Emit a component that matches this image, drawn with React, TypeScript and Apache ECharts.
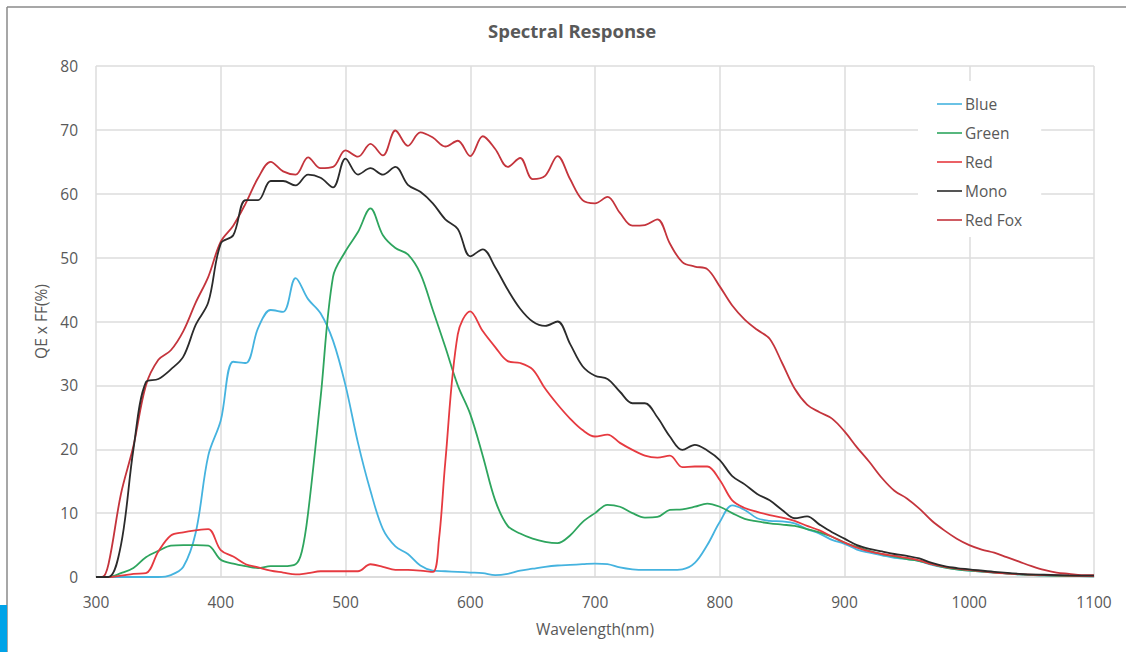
import React, { useEffect, useRef } from "react";
import * as echarts from "echarts";

const seriesNames = ["Blue", "Green", "Red", "Mono", "Red Fox"];
const seriesColors = ["#45b3df", "#2ea55e", "#e63a40", "#2b2b2b", "#c4343c"];
const xTicks = [300, 400, 500, 600, 700, 800, 900, 1000, 1100];
const yTicks = [0, 10, 20, 30, 40, 50, 60, 70, 80];

const blue: [number, number][] = [
  [300, 0], [350, 0], [360, 0.3], [370, 1.6], [380, 7], [390, 19], [400, 24.5], [410, 33.7], [420, 33.5],
  [430, 39], [440, 41.8], [450, 41.5], [460, 46.8], [470, 43.5], [480, 41.3], [490, 37], [500, 30], [510, 21],
  [520, 13.5], [530, 7.5], [540, 4.8], [550, 3.6], [560, 1.8], [570, 1], [580, 0.9], [590, 0.8], [600, 0.7],
  [610, 0.6], [620, 0.3], [630, 0.5], [640, 1], [650, 1.3], [660, 1.6], [670, 1.8], [680, 1.9], [690, 2],
  [700, 2.1], [710, 2], [720, 1.5], [730, 1.2], [740, 1.1], [750, 1.1], [760, 1.1], [770, 1.2], [780, 2.2],
  [790, 5], [800, 8.6], [810, 11.2], [820, 10.5], [830, 9.2], [840, 8.8], [850, 8.7], [860, 8.4], [870, 7.5],
  [880, 6.8], [890, 5.8], [900, 5.2], [910, 4.3], [920, 3.8], [930, 3.4], [940, 3], [950, 2.8], [960, 2.5],
  [970, 1.9], [980, 1.5], [990, 1.2], [1000, 1], [1020, 0.7], [1040, 0.4], [1060, 0.25], [1080, 0.15], [1100, 0.1],
];

const green: [number, number][] = [
  [300, 0], [310, 0], [320, 0.6], [330, 1.4], [340, 3.1], [350, 4.1], [360, 4.9], [370, 5], [380, 5], [390, 4.9],
  [400, 2.7], [410, 2.1], [420, 1.7], [430, 1.4], [440, 1.7], [450, 1.7], [460, 2], [465, 4], [470, 10],
  [480, 28], [490, 47], [500, 51], [510, 54], [520, 57.7], [530, 53.5], [540, 51.5], [550, 50.5], [560, 47.5],
  [570, 41.8], [580, 36], [590, 30], [600, 25.5], [610, 19], [620, 12], [630, 8], [640, 6.8], [650, 6],
  [660, 5.5], [670, 5.3], [680, 6.5], [690, 8.6], [700, 10], [710, 11.3], [720, 11], [730, 10], [740, 9.3],
  [750, 9.4], [760, 10.5], [770, 10.6], [780, 11], [790, 11.5], [800, 11], [810, 10], [820, 9.1], [830, 8.7],
  [840, 8.4], [850, 8.2], [860, 8], [870, 7.5], [880, 7], [890, 6.3], [900, 5.4], [910, 4.7], [920, 4.1],
  [930, 3.6], [940, 3.2], [950, 2.8], [960, 2.5], [970, 2], [980, 1.5], [990, 1.2], [1000, 1], [1020, 0.7],
  [1040, 0.4], [1060, 0.25], [1080, 0.15], [1100, 0.1],
];

const red: [number, number][] = [
  [300, 0], [310, 0], [320, 0.2], [330, 0.5], [340, 0.6], [350, 4], [360, 6.5], [370, 7], [380, 7.3],
  [390, 7.5], [400, 4.2], [410, 3.2], [420, 2], [430, 1.5], [440, 1], [450, 0.7], [460, 0.4], [470, 0.6],
  [480, 0.9], [490, 0.9], [500, 0.9], [510, 0.9], [520, 2], [530, 1.6], [540, 1.1], [550, 1.1], [560, 1],
  [570, 0.8], [575, 6], [580, 18], [590, 38], [600, 41.6], [610, 38.5], [620, 36], [630, 33.8], [640, 33.5],
  [650, 32.5], [660, 29.5], [670, 27], [680, 24.8], [690, 23], [700, 22], [710, 22.3], [720, 21], [730, 19.9],
  [740, 19], [750, 18.7], [760, 19], [770, 17.2], [780, 17.3], [790, 17.3], [800, 15.2], [810, 12], [820, 10.8],
  [830, 10.2], [840, 9.7], [850, 9.3], [860, 8.8], [870, 8], [880, 7.3], [890, 6.3], [900, 5.4], [910, 4.6],
  [920, 4], [930, 3.6], [940, 3.3], [950, 3], [960, 2.6], [970, 2], [980, 1.6], [990, 1.3], [1000, 1.1],
  [1020, 0.7], [1040, 0.45], [1060, 0.3], [1080, 0.2], [1100, 0.15],
];

const mono: [number, number][] = [
  [300, 0], [310, 0], [320, 5], [330, 20], [340, 30.5], [350, 31], [360, 32.5], [370, 34.5], [380, 39.5],
  [390, 43], [400, 52.2], [410, 53.5], [420, 59], [430, 59], [440, 62], [450, 62], [460, 61.3], [470, 63],
  [480, 62.5], [490, 61], [500, 65.5], [510, 63], [520, 64], [530, 63], [540, 64.2], [550, 61.4], [560, 60.3],
  [570, 58.5], [580, 56], [590, 54.5], [600, 50.2], [610, 51.3], [620, 48.5], [630, 45], [640, 42], [650, 40],
  [660, 39.3], [670, 40], [680, 36.5], [690, 33], [700, 31.5], [710, 31], [720, 29], [730, 27.2], [740, 27.2],
  [750, 25], [760, 22], [770, 19.9], [780, 20.7], [790, 19.8], [800, 18.3], [810, 15.8], [820, 14.5], [830, 13],
  [840, 12], [850, 10.5], [860, 9.2], [870, 9.5], [880, 8.2], [890, 7], [900, 6], [910, 5], [920, 4.4],
  [930, 4], [940, 3.6], [950, 3.3], [960, 2.9], [970, 2.2], [980, 1.7], [990, 1.4], [1000, 1.2], [1020, 0.8],
  [1040, 0.5], [1060, 0.35], [1080, 0.25], [1100, 0.2],
];

const redFox: [number, number][] = [
  [300, 0], [305, 0], [310, 2], [320, 13], [330, 20.5], [340, 30], [350, 34], [360, 35.5], [370, 38.5],
  [380, 43], [390, 47], [400, 52.5], [410, 55], [420, 58.5], [430, 62.5], [440, 65], [450, 63.5], [460, 63],
  [470, 65.7], [480, 64], [490, 64.2], [500, 66.8], [510, 65.8], [520, 67.8], [530, 66], [540, 69.9], [550, 67.5],
  [560, 69.6], [570, 68.8], [580, 67.4], [590, 68.3], [600, 65.9], [610, 69], [620, 67], [630, 64.2], [640, 65.6],
  [650, 62.3], [660, 62.8], [670, 65.9], [680, 62.3], [690, 59], [700, 58.5], [710, 59.5], [720, 57], [730, 55],
  [740, 55.1], [750, 56], [760, 52.2], [770, 49.3], [780, 48.6], [790, 48.2], [800, 45.5], [810, 42.5],
  [820, 40.3], [830, 38.7], [840, 37.3], [850, 33.5], [860, 29.5], [870, 27], [880, 25.8], [890, 24.8],
  [900, 22.8], [910, 20.3], [920, 18], [930, 15.5], [940, 13.5], [950, 12.3], [960, 10.7], [970, 8.8],
  [980, 7.3], [990, 6], [1000, 5], [1010, 4.3], [1020, 3.8], [1030, 3.1], [1040, 2.4], [1050, 1.7], [1060, 1.1],
  [1070, 0.7], [1080, 0.5], [1090, 0.3], [1100, 0.3],
];

const allData = [blue, green, red, mono, redFox];

const FONT = "'Open Sans', sans-serif";
const TEXT = "#595959";

export default function App() {
  const ref = useRef<HTMLDivElement>(null);
  useEffect(() => {
    if (!ref.current) return;
    const chart = echarts.init(ref.current, undefined, { renderer: "svg" });
    chart.setOption({
      animation: false,
      backgroundColor: "#ffffff",
      title: {
        text: "Spectral Response",
        left: 488,
        top: 21,
        padding: 0,
        textStyle: { fontFamily: FONT, fontSize: 18.5, fontWeight: "bold", color: TEXT },
      },
      legend: {
        orient: "vertical",
        left: 918,
        top: 81,
        padding: [15, 19, 9, 19],
        backgroundColor: "#ffffff",
        icon: "rect",
        itemWidth: 25,
        itemHeight: 1.6,
        itemGap: 13,
        data: seriesNames,
        textStyle: { fontFamily: FONT, fontSize: 15.5, color: TEXT, padding: [0, 0, 0, -2], lineHeight: 16 },
      },
      grid: { left: 96, right: 32, top: 66, bottom: 75, containLabel: false },
      xAxis: {
        type: "value",
        min: xTicks[0],
        max: xTicks[xTicks.length - 1],
        interval: 100,
        name: "Wavelength(nm)",
        nameLocation: "middle",
        nameGap: 44,
        nameTextStyle: { fontFamily: FONT, fontSize: 15.5, color: TEXT },
        axisLine: { show: true, lineStyle: { color: "#d9d9d9", width: 1.5 } },
        axisTick: { show: false },
        axisLabel: { margin: 17, fontFamily: FONT, fontSize: 15.5, color: TEXT, formatter: (v: number) => String(v) },
        splitLine: { show: true, lineStyle: { color: "#dcdcdc", width: 1.5 } },
      },
      yAxis: {
        type: "value",
        min: yTicks[0],
        max: yTicks[yTicks.length - 1],
        interval: 10,
        name: "QE x FF(%)",
        nameLocation: "middle",
        nameGap: 44,
        nameTextStyle: { fontFamily: FONT, fontSize: 15.5, color: TEXT },
        axisLine: { show: false },
        axisTick: { show: false },
        axisLabel: { margin: 18, fontFamily: FONT, fontSize: 15.5, color: TEXT },
        splitLine: { show: true, lineStyle: { color: "#dcdcdc", width: 1.5 } },
      },
      graphic: [
        { type: "line", shape: { x1: 7, y1: 7, x2: 1126, y2: 7 }, style: { stroke: "#8a8a8a", lineWidth: 1.5 }, z: 10 },
        { type: "line", shape: { x1: 7, y1: 7, x2: 7, y2: 652 }, style: { stroke: "#8a8a8a", lineWidth: 1.5 }, z: 10 },
        { type: "rect", shape: { x: 0, y: 605, width: 7, height: 47 }, style: { fill: "#00a3e8" }, z: 10 },
      ],
      series: seriesNames.map((name, i) => ({
        name,
        type: "line",
        data: allData[i],
        smooth: 0.35,
        symbol: "none",
        lineStyle: { color: seriesColors[i], width: 1.8 },
        itemStyle: { color: seriesColors[i] },
        z: i === 3 ? 3 : 2,
      })),
    });
    return () => chart.dispose();
  }, []);
  return (
    <div
      ref={ref}
      style={{ position: "fixed", left: 0, top: 0, width: 1126, height: 652 }}
    />
  );
}
